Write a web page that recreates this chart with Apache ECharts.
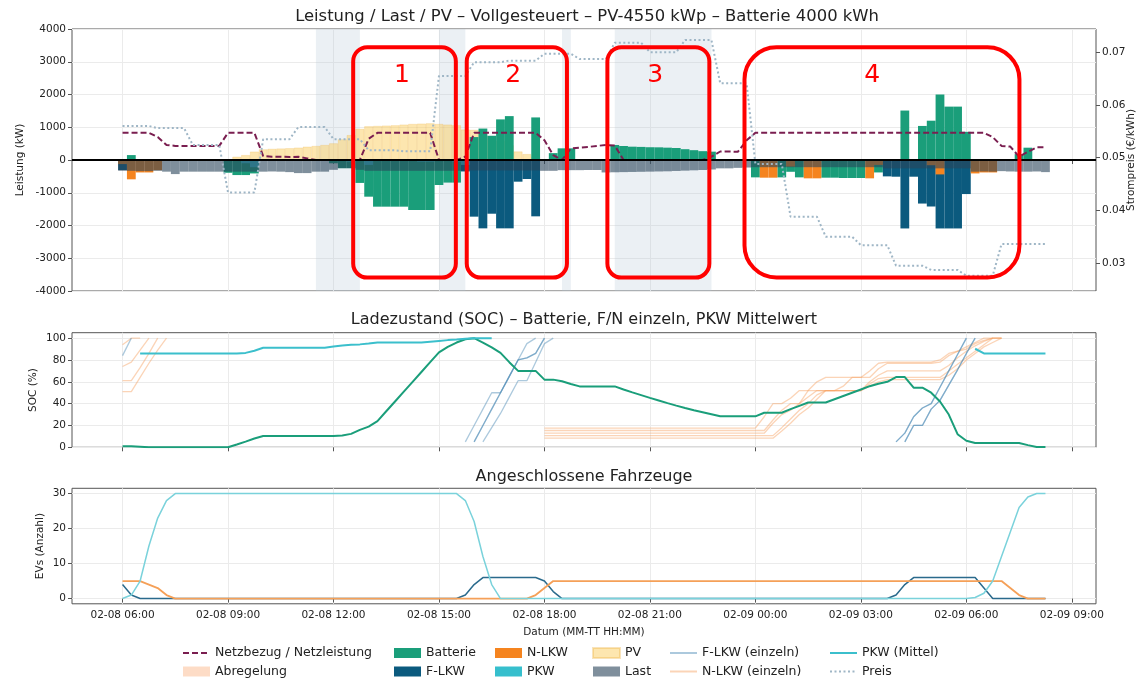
<!DOCTYPE html>
<html>
<head>
<meta charset="utf-8">
<script src="https://cdn.jsdelivr.net/npm/echarts@6/dist/echarts.min.js"></script>
<style>
  html, body { margin: 0; padding: 0; background: #fff; }
  #chart { width: 1139px; height: 680px; }
</style>
</head>
<body>
<div id="chart"></div>
<script>
// Zeitachse: Stunden ab 02-08 00:00, ein Schritt = 15 min ab 06:00
var t0 = 6, dt = 0.25;
var tickHours = [6, 9, 12, 15, 18, 21, 24, 27, 30, 33];

// --- Leistung (kW), ein Wert je 15 min, i = 0 .. 105 ---
var pv = [
  0, 0, 0, 0, 0, 0, 0, 0,
  0, 0, 0, 0, 0, 100, 150, 255,
  325, 340, 350, 360, 377, 407, 428, 458,
  509, 630, 760, 950, 1030, 1040, 1050, 1060,
  1080, 1100, 1110, 1120, 1100, 1080, 1060, 930,
  920, 850, 700, 580, 450, 260, 180, 100,
  0, 0, 0, 0, 0, 0, 0, 0,
  0, 0, 0, 0, 0, 0, 0, 0,
  0, 0, 0, 0, 0, 0, 0, 0,
  0, 0, 0, 0, 0, 0, 0, 0,
  0, 0, 0, 0, 0, 0, 0, 0,
  0, 0, 0, 0, 0, 0, 0, 0,
  0, 0, 0, 0, 0, 0, 0, 0,
  0, 0
];
var batterie = [
  0, 150, 0, 0, 0, 0, 0, 0,
  0, 0, 0, 0, -390, -460, -460, -410,
  0, 0, 0, 0, 0, 0, 0, 0,
  -100, -250, -250, -700, -1120, -1425, -1425, -1425,
  -1425, -1527, -1527, -1527, -763, -690, -690, 0,
  700, 960, 740, 1240, 1340, 0, 0, 1300,
  0, 210, 356, 356, 0, 0, 0, 0,
  458, 428, 407, 400, 390, 387, 377, 367,
  330, 300, 270, 255, 0, 0, 0, 0,
  -530, 0, 0, -530, -360, -530, 0, 0,
  -540, -540, -550, -550, -550, 0, -380, 0,
  0, 1510, 0, 1040, 1200, 2000, 1630, 1630,
  860, 0, 0, 0, 0, 0, 180, 376,
  0, 0
];
var fLkw = [
  -305, 0, 0, 0, 0, 0, 0, 0,
  0, 0, 0, 0, 0, 0, 0, 0,
  0, 0, 0, 0, 0, 0, 0, 0,
  0, 0, 0, 0, 0, 0, 0, 0,
  0, 0, 0, 0, 0, 0, 0, -350,
  -1730, -2087, -1640, -2087, -2087, -662, -580, -1720,
  0, 0, 0, 0, 0, 0, 0, 0,
  0, 0, 0, 0, 0, 0, 0, 0,
  0, 0, 0, 0, 0, 0, 0, 0,
  0, 0, 0, 0, 0, 0, 0, 0,
  0, 0, 0, 0, 0, 0, 0, -500,
  -510, -2090, -510, -1330, -1420, -2090, -2090, -2090,
  -1040, 0, 0, 0, 0, 0, 0, 0,
  0, 0
];
var nLkw = [
  -125, -590, -380, -380, -310, 0, 0, 0,
  0, 0, 0, 0, 0, 0, 0, 0,
  0, 0, 0, 0, 0, 0, 0, 0,
  0, 0, 0, 0, 0, 0, 0, 0,
  0, 0, 0, 0, 0, 0, 0, 0,
  0, 0, 0, 0, 0, 0, 0, 0,
  0, 0, 0, 0, 0, 0, 0, 0,
  0, 0, 0, 0, 0, 0, 0, 0,
  0, 0, 0, 0, 0, 0, 0, 0,
  0, -540, -540, 0, -200, 0, -560, -560,
  0, 0, 0, 0, 0, -560, -150, 0,
  0, 0, 0, 0, -160, -440, 0, 0,
  0, -410, -380, -380, 0, 0, 0, 0,
  0, 0
];
var pkw = [
  0, 0, 0, 0, 0, 0, 0, 0,
  0, 0, 0, 0, 0, 0, -100, -220,
  0, 0, 0, 0, 0, 0, 0, 0,
  0, 0, -50, 0, -150, 0, 0, 0,
  0, 0, -50, -50, 0, 0, -50, -150,
  0, 0, 0, 0, 0, 0, 0, 0,
  0, 0, 0, 0, 0, 0, 0, 0,
  0, 0, 0, 0, 0, 0, 0, 0,
  0, 0, 0, 0, 0, 0, 0, 0,
  0, 0, 0, 0, 0, 0, 0, 0,
  0, 0, 0, 0, 0, 0, 0, 0,
  0, 0, 0, 0, 0, 0, 0, 0,
  0, 0, 0, 0, 0, 0, 0, 0,
  0, 0
];
var last = [
  -330, -330, -340, -340, -330, -356, -430, -356,
  -356, -356, -356, -356, -356, -356, -356, -356,
  -356, -350, -356, -370, -400, -400, -356, -356,
  -300, -250, -250, -300, -330, -330, -330, -330,
  -330, -330, -330, -330, -330, -330, -330, -320,
  -320, -320, -320, -320, -320, -320, -320, -320,
  -330, -330, -310, -310, -310, -305, -305, -380,
  -375, -370, -365, -360, -355, -350, -345, -335,
  -325, -315, -305, -290, -255, -255, -240, -230,
  -220, -220, -220, -220, -220, -220, -220, -220,
  -220, -220, -220, -220, -220, -220, -220, -255,
  -255, -255, -255, -255, -255, -255, -255, -255,
  -255, -356, -350, -356, -340, -350, -356, -356,
  -350, -370
];
var netzbezug = [
  830, 830, 830, 830, 700, 460, 430, 430,
  430, 430, 430, 430, 830, 830, 830, 830,
  120, 100, 100, 90, 100, 50, 0, 0,
  0, 0, 0, 0, 650, 830, 830, 830,
  830, 830, 830, 830, 0, 0, 0, 100,
  830, 830, 830, 830, 830, 830, 830, 830,
  600, 150, 0, 350, 380, 400, 430, 460,
  440, 0, 0, 0, 0, 0, 0, 0,
  0, 0, 0, 100, 260, 260, 250, 600,
  830, 830, 830, 830, 830, 830, 830, 830,
  830, 830, 830, 830, 830, 830, 830, 830,
  830, 830, 830, 830, 830, 830, 830, 830,
  830, 830, 830, 700, 430, 410, 100, 250,
  390, 390
];
var preis = [
  0.0560, 0.0560, 0.0560, 0.0560, 0.0556, 0.0556, 0.0556, 0.0556,
  0.0524, 0.0524, 0.0524, 0.0524, 0.0434, 0.0434, 0.0434, 0.0434,
  0.0535, 0.0535, 0.0535, 0.0535, 0.0558, 0.0558, 0.0558, 0.0558,
  0.0535, 0.0535, 0.0535, 0.0535, 0.0514, 0.0514, 0.0514, 0.0514,
  0.0512, 0.0512, 0.0512, 0.0512, 0.0655, 0.0655, 0.0655, 0.0655,
  0.0681, 0.0681, 0.0681, 0.0681, 0.0684, 0.0684, 0.0684, 0.0684,
  0.0697, 0.0697, 0.0697, 0.0697, 0.0687, 0.0687, 0.0687, 0.0687,
  0.0718, 0.0718, 0.0718, 0.0718, 0.0700, 0.0700, 0.0700, 0.0700,
  0.0723, 0.0723, 0.0723, 0.0723, 0.0641, 0.0641, 0.0641, 0.0641,
  0.0488, 0.0488, 0.0488, 0.0488, 0.0388, 0.0388, 0.0388, 0.0388,
  0.0350, 0.0350, 0.0350, 0.0350, 0.0334, 0.0334, 0.0334, 0.0334,
  0.0295, 0.0295, 0.0295, 0.0295, 0.0287, 0.0287, 0.0287, 0.0287,
  0.0276, 0.0276, 0.0276, 0.0276, 0.0336, 0.0336, 0.0336, 0.0336,
  0.0336, 0.0336
];
// graue Zeitfenster (Stunden)
var spans = [[11.5, 12.75], [15, 15.75], [18.5, 18.75], [20, 22.75]];

// --- SOC (%) ---
var socBatterie = [
  1, 1, 0.5, 0, 0, 0, 0, 0,
  0, 0, 0, 0, 0, 2.5, 5.2, 8,
  10.3, 10.3, 10.3, 10.3, 10.3, 10.3, 10.3, 10.3,
  10.3, 10.8, 12.3, 16, 19, 24, 33, 42,
  51, 60, 69, 78, 87, 92, 96, 99,
  100, 96, 91.5, 86.5, 78, 70, 70, 70,
  62, 62, 60.5, 58, 55.8, 55.8, 55.8, 55.8,
  55.8, 53, 50.3, 47.8, 45.3, 42.9, 40.5, 38.2,
  36, 34, 32.2, 30.3, 28.4, 28.4, 28.4, 28.4,
  28.4, 31.7, 31.7, 31.7, 35, 38, 41, 41,
  41, 44, 47, 50, 53, 56, 58.3, 60,
  64.4, 64.4, 54.6, 54.6, 50, 42, 30, 12,
  6, 4, 4, 4, 4, 4, 4, 2,
  0.3, 0.3
];
var socPkwMittel = [
  null, null, 86, 86, 86, 86, 86, 86,
  86, 86, 86, 86, 86, 86, 86.5, 88.5,
  91.2, 91.2, 91.2, 91.2, 91.2, 91.2, 91.2, 91.2,
  92.3, 93.3, 94, 94.3, 95, 96, 96, 96,
  96, 96, 96, 96.8, 97.5, 98.2, 98.8, 99.5,
  100, 100, 100, null, null, null, null, null,
  null, null, null, null, null, null, null, null,
  null, null, null, null, null, null, null, null,
  null, null, null, null, null, null, null, null,
  null, null, null, null, null, null, null, null,
  null, null, null, null, null, null, null, null,
  null, null, null, null, null, null, null, null,
  null, 90.3, 86, 86, 86, 86, 86, 86,
  86, 86
];
// einzelne F-LKW (Startindex + Werte)
var fLkwSocA = [84, 100];                                 // ab i = 0
var fLkwSocB = [5, 20, 35, 50, 50, 65, 80, 95, 100];      // ab i = 39
var fLkwSocC = [5, 20, 35, 50, 65, 80, 82, 86, 100];      // ab i = 40
var fLkwSocD = [5, 18, 31, 46, 61, 61, 78, 95, 100];      // ab i = 41
var fLkwSocE = [5, 13, 28, 36, 40, 55, 70, 85, 100];      // ab i = 88
var fLkwSocF = [5, 20, 20, 35, 43, 57, 71, 86, 100];      // ab i = 89
// einzelne N-LKW, Morgen (ab i = 0)
var nLkwSocA = [94, 100, 100];
var nLkwSocB = [74, 78, 89, 100];
var nLkwSocC = [61, 61, 73, 86, 100];
var nLkwSocD = [51, 51, 64, 77, 89, 100];
// einzelne N-LKW, Nacht (ab i = 48)
var nLkwSocE = [
  17.6, 17.6, 17.6, 17.6, 17.6, 17.6, 17.6, 17.6, 17.6, 17.6, 17.6, 17.6, 17.6,
  17.6, 17.6, 17.6, 17.6, 17.6, 17.6, 17.6, 17.6, 17.6, 17.6, 17.6, 17.6,
  28, 40, 40, 45, 52, 52, 52, 52, 52, 56, 64, 64, 70, 77,
  78, 78, 78, 78, 78, 78, 80, 86, 88, 92, 96, 100, 100
];
var nLkwSocF = [
  15.4, 15.4, 15.4, 15.4, 15.4, 15.4, 15.4, 15.4, 15.4, 15.4, 15.4, 15.4, 15.4,
  15.4, 15.4, 15.4, 15.4, 15.4, 15.4, 15.4, 15.4, 15.4, 15.4, 15.4, 15.4, 15.4,
  25, 34, 40, 40, 52, 60, 64, 64, 64, 64, 64, 64, 72,
  77, 77, 77, 77, 77, 77, 78, 84, 88, 90, 95, 98, 100, 100
];
var nLkwSocG = [
  12.9, 12.9, 12.9, 12.9, 12.9, 12.9, 12.9, 12.9, 12.9, 12.9, 12.9, 12.9, 12.9,
  12.9, 12.9, 12.9, 12.9, 12.9, 12.9, 12.9, 12.9, 12.9, 12.9, 12.9, 12.9, 12.9,
  22, 30, 34, 40, 46, 52, 52, 52, 52, 52, 52, 60, 66,
  70, 70, 70, 70, 70, 70, 70, 75, 82, 88, 93, 97, 100, 100
];
var nLkwSocH = [
  10.7, 10.7, 10.7, 10.7, 10.7, 10.7, 10.7, 10.7, 10.7, 10.7, 10.7, 10.7, 10.7, 10.7,
  10.7, 10.7, 10.7, 10.7, 10.7, 10.7, 10.7, 10.7, 10.7, 10.7, 10.7, 10.7, 10.7,
  18, 26, 34, 40, 48, 52, 52, 52, 52, 52, 58, 63, 64,
  64, 64, 64, 64, 64, 64, 70, 76, 82, 88, 94, 100, 100
];
var nLkwSocI = [
  8.4, 8.4, 8.4, 8.4, 8.4, 8.4, 8.4, 8.4, 8.4, 8.4, 8.4, 8.4, 8.4, 8.4,
  8.4, 8.4, 8.4, 8.4, 8.4, 8.4, 8.4, 8.4, 8.4, 8.4, 8.4, 8.4, 8.4,
  15, 22, 30, 36, 44, 52, 52, 52, 52, 52, 56, 60, 62,
  62, 62, 62, 62, 62, 62, 66, 72, 80, 86, 92, 96, 100
];

// --- angeschlossene Fahrzeuge ---
var anzahlFLkw = [
  4, 1, 0, 0, 0, 0, 0, 0,
  0, 0, 0, 0, 0, 0, 0, 0,
  0, 0, 0, 0, 0, 0, 0, 0,
  0, 0, 0, 0, 0, 0, 0, 0,
  0, 0, 0, 0, 0, 0, 0, 1,
  4, 6, 6, 6, 6, 6, 6, 6,
  5, 2, 0, 0, 0, 0, 0, 0,
  0, 0, 0, 0, 0, 0, 0, 0,
  0, 0, 0, 0, 0, 0, 0, 0,
  0, 0, 0, 0, 0, 0, 0, 0,
  0, 0, 0, 0, 0, 0, 0, 0,
  1, 4, 6, 6, 6, 6, 6, 6,
  6, 6, 3, 0, 0, 0, 0, 0,
  0, 0
];
var anzahlNLkw = [
  5, 5, 5, 4, 3, 1, 0, 0,
  0, 0, 0, 0, 0, 0, 0, 0,
  0, 0, 0, 0, 0, 0, 0, 0,
  0, 0, 0, 0, 0, 0, 0, 0,
  0, 0, 0, 0, 0, 0, 0, 0,
  0, 0, 0, 0, 0, 0, 0, 1,
  3, 5, 5, 5, 5, 5, 5, 5,
  5, 5, 5, 5, 5, 5, 5, 5,
  5, 5, 5, 5, 5, 5, 5, 5,
  5, 5, 5, 5, 5, 5, 5, 5,
  5, 5, 5, 5, 5, 5, 5, 5,
  5, 5, 5, 5, 5, 5, 5, 5,
  5, 5, 5, 5, 5, 3, 1, 0,
  0, 0
];
var anzahlPkw = [
  0, 1, 5, 15, 23, 28, 30, 30,
  30, 30, 30, 30, 30, 30, 30, 30,
  30, 30, 30, 30, 30, 30, 30, 30,
  30, 30, 30, 30, 30, 30, 30, 30,
  30, 30, 30, 30, 30, 30, 30, 28,
  22, 12, 4, 0, 0, 0, 0, 0,
  0, 0, 0, 0, 0, 0, 0, 0,
  0, 0, 0, 0, 0, 0, 0, 0,
  0, 0, 0, 0, 0, 0, 0, 0,
  0, 0, 0, 0, 0, 0, 0, 0,
  0, 0, 0, 0, 0, 0, 0, 0,
  0, 0, 0, 0, 0, 0, 0, 0,
  0, 0.3, 1.5, 5, 12, 19, 26, 29,
  30, 30
];

// rote Markierungen (Stunden, kW)
var boxes = [
  { label: '1', x0: 12.56, x1: 15.48, lx: 13.95, r: 14 },
  { label: '2', x0: 15.79, x1: 18.64, lx: 17.11, r: 14 },
  { label: '3', x0: 19.79, x1: 22.69, lx: 21.15, r: 14 },
  { label: '4', x0: 23.69, x1: 31.51, lx: 27.32, r: 32 }
];
var boxTop = 3440, boxBottom = -3590, boxLabelY = 2595;

function pairs(arr, start) {
  start = start || 0;
  return arr.map(function (v, k) { return [t0 + (start + k) * dt, v]; });
}
function fmtTime(v) {
  var day = v < 24 ? '02-08' : '02-09';
  var h = Math.round(v) % 24;
  return day + ' ' + (h < 10 ? '0' : '') + h + ':00';
}

var FONT = 'DejaVu Sans';
var xMin = 4.5625, xMax = 33.6875;
var gridLine = { show: true, lineStyle: { color: '#ebebeb', width: 1 } };
var tick = { show: true, length: 4, lineStyle: { color: '#555' } };

function xAxis(gridIndex, labels) {
  var ax = {
    type: 'value', gridIndex: gridIndex, min: xMin, max: xMax,
    axisLine: { show: false },
    axisTick: Object.assign({ customValues: tickHours }, tick),
    axisLabel: { show: labels, customValues: tickHours, formatter: fmtTime, fontSize: 10.5, color: '#222', margin: 6 },
    splitLine: gridLine
  };
  if (labels) {
    ax.name = 'Datum (MM-TT HH:MM)';
    ax.nameLocation = 'middle';
    ax.nameGap = 23;
    ax.nameMoveOverlap = false;
    ax.nameTextStyle = { fontSize: 10.5, color: '#222' };
  }
  return ax;
}
function yName(name, gap) {
  return { name: name, nameLocation: 'middle', nameGap: gap, nameMoveOverlap: false,
    nameTextStyle: { fontSize: 10.5, color: '#222' } };
}
function plain(v) { return String(v); }

var barCommon = { type: 'bar', xAxisIndex: 0, yAxisIndex: 0, barWidth: '100%', barGap: '-100%', silent: true };
function bar(name, data, color, extra) {
  return Object.assign({ name: name, data: pairs(data), itemStyle: { color: color } }, barCommon, extra || {});
}

var socLine = function (name, arr, start, color, width) {
  return {
    name: name, type: 'line', xAxisIndex: 1, yAxisIndex: 2, data: pairs(arr, start),
    symbol: 'none', silent: true, z: 3,
    lineStyle: { color: color, width: width }, itemStyle: { color: color }
  };
};
var fCol = 'rgba(70,135,180,0.45)', nCol = 'rgba(247,160,95,0.45)';

var series = [
  bar('PV', pv, 'rgba(252,205,95,0.5)', {
    z: 2,
    itemStyle: { color: 'rgba(252,205,95,0.5)', borderColor: 'rgba(235,175,60,0.35)', borderWidth: 0.6 },
    markArea: {
      silent: true, z: 1,
      itemStyle: { color: 'rgba(176,196,210,0.25)' },
      data: spans.map(function (s) { return [{ xAxis: s[0] }, { xAxis: s[1] }]; })
    }
  }),
  Object.assign({ name: 'Abregelung', data: [], itemStyle: { color: '#fddcc6' } }, barCommon),
  bar('Batterie', batterie, '#1a9e7a', { stack: 'fluss', z: 3 }),
  bar('F-LKW', fLkw, '#0b5a7e', { stack: 'fluss', z: 3 }),
  bar('N-LKW', nLkw, '#f5841f', { stack: 'fluss', z: 3 }),
  bar('PKW', pkw, '#36bfcd', { stack: 'fluss', z: 3 }),
  bar('Last', last, 'rgba(42,68,90,0.6)', { z: 4 }),
  {
    name: 'Netzbezug / Netzleistung', type: 'line', xAxisIndex: 0, yAxisIndex: 0,
    data: pairs(netzbezug), symbol: 'none', silent: true, z: 5,
    lineStyle: { color: '#7a1e50', width: 2, type: [6, 3] }, itemStyle: { color: '#7a1e50' },
    markLine: {
      silent: true, symbol: 'none', z: 8, label: { show: false },
      lineStyle: { color: '#000', width: 2.2, type: 'solid' },
      data: [{ yAxis: 0 }]
    }
  },
  {
    name: 'Preis', type: 'line', xAxisIndex: 0, yAxisIndex: 1,
    data: pairs(preis), symbol: 'none', silent: true, z: 6,
    lineStyle: { color: '#9fb6c6', width: 2, type: [2, 2.5] }, itemStyle: { color: '#9fb6c6' }
  },
  // SOC
  socLine('N-LKW (einzeln)', nLkwSocA, 0, nCol, 1.3),
  socLine('N-LKW (einzeln)', nLkwSocB, 0, nCol, 1.3),
  socLine('N-LKW (einzeln)', nLkwSocC, 0, nCol, 1.3),
  socLine('N-LKW (einzeln)', nLkwSocD, 0, nCol, 1.3),
  socLine('N-LKW (einzeln)', nLkwSocE, 48, nCol, 1.3),
  socLine('N-LKW (einzeln)', nLkwSocF, 48, nCol, 1.3),
  socLine('N-LKW (einzeln)', nLkwSocG, 48, nCol, 1.3),
  socLine('N-LKW (einzeln)', nLkwSocH, 48, nCol, 1.3),
  socLine('N-LKW (einzeln)', nLkwSocI, 48, nCol, 1.3),
  socLine('F-LKW (einzeln)', fLkwSocA, 0, fCol, 1.3),
  socLine('F-LKW (einzeln)', fLkwSocB, 39, fCol, 1.3),
  socLine('F-LKW (einzeln)', fLkwSocC, 40, fCol, 1.3),
  socLine('F-LKW (einzeln)', fLkwSocC, 40, fCol, 1.3),
  socLine('F-LKW (einzeln)', fLkwSocD, 41, fCol, 1.3),
  socLine('F-LKW (einzeln)', fLkwSocE, 88, fCol, 1.3),
  socLine('F-LKW (einzeln)', fLkwSocE, 88, fCol, 1.3),
  socLine('F-LKW (einzeln)', fLkwSocF, 89, fCol, 1.3),
  socLine('F-LKW (einzeln)', fLkwSocF, 89, fCol, 1.3),
  socLine('Batterie SOC', socBatterie, 0, '#1a9e7a', 2),
  socLine('PKW (Mittel)', socPkwMittel, 0, '#3bbfcc', 2),
  // Anzahl
  {
    name: 'F-LKW Anzahl', type: 'line', xAxisIndex: 2, yAxisIndex: 3, data: pairs(anzahlFLkw),
    symbol: 'none', silent: true, lineStyle: { color: '#2a6a8c', width: 1.5 }
  },
  {
    name: 'N-LKW Anzahl', type: 'line', xAxisIndex: 2, yAxisIndex: 3, data: pairs(anzahlNLkw),
    symbol: 'none', silent: true, lineStyle: { color: '#f5a058', width: 1.8 }
  },
  {
    name: 'PKW Anzahl', type: 'line', xAxisIndex: 2, yAxisIndex: 3, data: pairs(anzahlPkw),
    symbol: 'none', silent: true, lineStyle: { color: '#7ad2db', width: 1.5 }
  }
];

var barNames = ['Abregelung', 'Batterie', 'F-LKW', 'N-LKW', 'PKW', 'PV', 'Last'];
var legendCols = [
  { left: 182, names: ['Netzbezug / Netzleistung', 'Abregelung'] },
  { left: 394, names: ['Batterie', 'F-LKW'] },
  { left: 495, names: ['N-LKW', 'PKW'] },
  { left: 592, names: ['PV', 'Last'] },
  { left: 669, names: ['F-LKW (einzeln)', 'N-LKW (einzeln)'] },
  { left: 829, names: ['PKW (Mittel)', 'Preis'] }
];
function legendItem(n) {
  // Linien ohne Punktsymbol in der Legende
  return barNames.indexOf(n) >= 0 ? { name: n, icon: 'rect' } : { name: n, itemStyle: { opacity: 0 } };
}

var chart = echarts.init(document.getElementById('chart'));
chart.setOption({
  animation: false,
  backgroundColor: '#fff',
  textStyle: { fontFamily: FONT },
  title: [
    { text: 'Leistung / Last / PV – Vollgesteuert – PV-4550 kWp – Batterie 4000 kWh', left: 587, top: 9, textAlign: 'center', padding: 0,
      textStyle: { fontSize: 16.4, fontWeight: 'normal', color: '#222', fontFamily: FONT } },
    { text: 'Ladezustand (SOC) – Batterie, F/N einzeln, PKW Mittelwert', left: 584, top: 312, textAlign: 'center', padding: 0,
      textStyle: { fontSize: 16, fontWeight: 'normal', color: '#222', fontFamily: FONT } },
    { text: 'Angeschlossene Fahrzeuge', left: 584, top: 469, textAlign: 'center', padding: 0,
      textStyle: { fontSize: 16, fontWeight: 'normal', color: '#222', fontFamily: FONT } }
  ],
  grid: [
    { left: 72, right: 43, top: 29, height: 262, show: true, borderColor: '#555', borderWidth: 1, outerBoundsMode: 'none' },
    { left: 72, right: 43, top: 332.7, height: 114.6, show: true, borderColor: '#555', borderWidth: 1, outerBoundsMode: 'none' },
    { left: 72, right: 43, top: 488.3, height: 115.5, show: true, borderColor: '#555', borderWidth: 1, outerBoundsMode: 'none' }
  ],
  legend: legendCols.map(function (c) {
    return {
      left: c.left, top: 646.5, orient: 'vertical', padding: 0,
      itemWidth: 27, itemHeight: 10, itemGap: 5.5, selectedMode: false,
      textStyle: { fontSize: 12.5, color: '#222', fontFamily: FONT },
      data: c.names.map(legendItem)
    };
  }),
  xAxis: [xAxis(0, false), xAxis(1, false), xAxis(2, true)],
  yAxis: [
    Object.assign({
      type: 'value', gridIndex: 0, min: -4000, max: 4000, interval: 1000,
      axisLine: { show: false }, axisTick: tick,
      axisLabel: { fontSize: 10.5, color: '#222', margin: 6, formatter: plain }, splitLine: gridLine
    }, yName('Leistung (kW)', 46)),
    Object.assign({
      type: 'value', gridIndex: 0, position: 'right', min: 0.0247, max: 0.0744,
      axisLine: { show: false },
      axisTick: Object.assign({ customValues: [0.03, 0.04, 0.05, 0.06, 0.07] }, tick),
      axisLabel: { customValues: [0.03, 0.04, 0.05, 0.06, 0.07], fontSize: 10.5, color: '#222', margin: 6,
        formatter: function (v) { return v.toFixed(2); } },
      splitLine: { show: false }
    }, yName('Strompreis (€/kWh)', 30)),
    Object.assign({
      type: 'value', gridIndex: 1, min: 0, max: 105,
      axisLine: { show: false },
      axisTick: Object.assign({ customValues: [0, 20, 40, 60, 80, 100] }, tick),
      axisLabel: { customValues: [0, 20, 40, 60, 80, 100], fontSize: 10.5, color: '#222', margin: 6, formatter: plain },
      splitLine: gridLine
    }, yName('SOC (%)', 33)),
    Object.assign({
      type: 'value', gridIndex: 2, min: -1.5, max: 31.5,
      axisLine: { show: false },
      axisTick: Object.assign({ customValues: [0, 10, 20, 30] }, tick),
      axisLabel: { customValues: [0, 10, 20, 30], fontSize: 10.5, color: '#222', margin: 6, formatter: plain },
      splitLine: gridLine
    }, yName('EVs (Anzahl)', 26))
  ],
  series: series
});

// rote Rahmen mit Nummern
var g = [];
boxes.forEach(function (b) {
  var p0 = chart.convertToPixel({ gridIndex: 0 }, [b.x0, boxTop]);
  var p1 = chart.convertToPixel({ gridIndex: 0 }, [b.x1, boxBottom]);
  var pl = chart.convertToPixel({ gridIndex: 0 }, [b.lx, boxLabelY]);
  g.push({
    type: 'rect', z: 100, silent: true,
    shape: { x: p0[0], y: p0[1], width: p1[0] - p0[0], height: p1[1] - p0[1], r: b.r },
    style: { fill: 'none', stroke: '#ff0000', lineWidth: 4 }
  });
  g.push({
    type: 'text', z: 100, silent: true, x: pl[0], y: pl[1],
    style: { text: b.label, fill: '#ff0000', fontSize: 25, fontFamily: FONT, align: 'center', verticalAlign: 'middle' }
  });
});
chart.setOption({ graphic: g });
</script>
</body>
</html>
